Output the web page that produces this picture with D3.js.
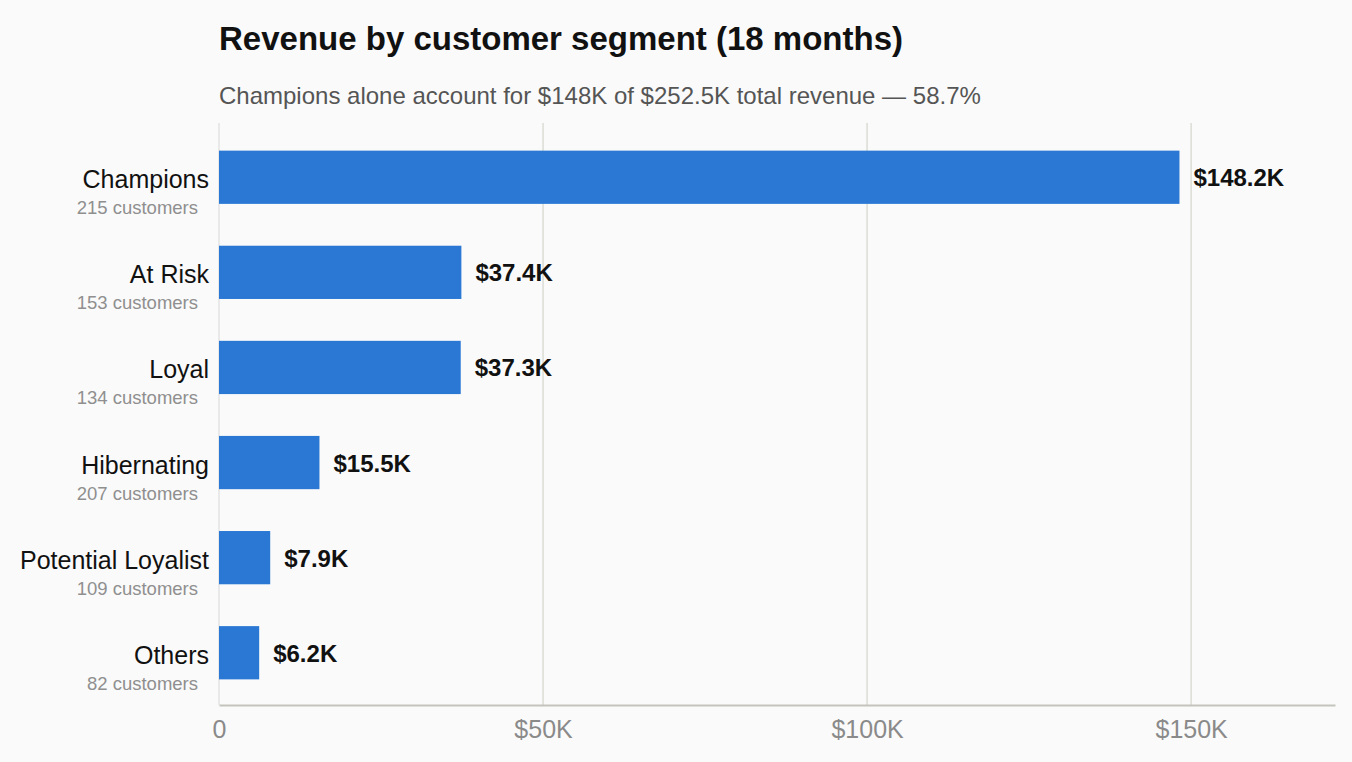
<!DOCTYPE html>
<html>
<head>
<meta charset="utf-8">
<script src="https://cdn.jsdelivr.net/npm/d3@7"></script>
<style>
  html, body { margin: 0; padding: 0; background: #fafafa; }
  svg { display: block; font-family: "Liberation Sans", Arial, Helvetica, sans-serif; }
</style>
</head>
<body>
<svg id="chart" width="1352" height="762"></svg>
<script>
const segments = ["Champions", "At Risk", "Loyal", "Hibernating", "Potential Loyalist", "Others"];
const revenue = [148.2, 37.4, 37.3, 15.5, 7.9, 6.2];          // $K
const customers = [215, 153, 134, 207, 109, 82];
const tickValues = [0, 50, 100, 150];
const tickLabels = ["0", "$50K", "$100K", "$150K"];
const titleText = "Revenue by customer segment (18 months)";
const subtitleText = "Champions alone account for $148K of $252.5K total revenue — 58.7%";

const data = segments.map((s, i) => ({ seg: s, rev: revenue[i], cust: customers[i] }));

const svg = d3.select("#chart");
const margin = { left: 219, right: 17, top: 123, bottom: 57 };
const W = 1352, H = 762;

const x = d3.scaleLinear().domain([0, 172.2]).range([margin.left, W - margin.right]);
const y = d3.scaleBand().domain(segments).range([margin.top + 1, H - margin.bottom + 1])
  .paddingInner(0.44).paddingOuter(0.28);

svg.append("rect").attr("width", W).attr("height", H).attr("fill", "#fafafa");

// title & subtitle
svg.append("text").attr("x", 219).attr("y", 50)
  .attr("font-size", 33).attr("font-weight", "bold").attr("fill", "#111")
  .text(titleText);
svg.append("text").attr("x", 219).attr("y", 104)
  .attr("font-size", 24).attr("fill", "#555")
  .text(subtitleText);

// grid
svg.append("g").selectAll("line").data(tickValues).join("line")
  .attr("x1", d => x(d)).attr("x2", d => x(d))
  .attr("y1", margin.top).attr("y2", H - margin.bottom)
  .attr("stroke", d => d === 0 ? "#d8d8d8" : "#dcdcd6").attr("stroke-width", d => d === 0 ? 1 : 1.5);

// x axis
const xAxis = d3.axisBottom(x).tickValues(tickValues)
  .tickFormat((d, i) => tickLabels[i]).tickSize(0).tickPadding(15);
const gx = svg.append("g").attr("transform", `translate(0,${H - margin.bottom})`).call(xAxis);
gx.select(".domain").attr("stroke", "#c4c4bc").attr("stroke-width", 2);
gx.selectAll("text").attr("font-size", 25).attr("fill", "#8a8a8a")
  .attr("font-family", "'Liberation Sans', Arial, sans-serif");

// bars
svg.append("g").selectAll("rect").data(data).join("rect")
  .attr("x", x(0)).attr("y", d => y(d.seg))
  .attr("width", d => x(d.rev) - x(0)).attr("height", y.bandwidth())
  .attr("fill", "#2b78d4");

// value labels
svg.append("g").selectAll("text").data(data).join("text")
  .attr("x", d => x(d.rev) + 14)
  .attr("y", d => y(d.seg) + y.bandwidth() / 2 + 9)
  .attr("font-size", 24).attr("font-weight", "bold").attr("fill", "#111")
  .text(d => "$" + d.rev.toFixed(1) + "K");

// segment labels
const lab = svg.append("g");
lab.selectAll("text.seg").data(data).join("text").attr("class", "seg")
  .attr("x", 209).attr("y", d => y(d.seg) + y.bandwidth() / 2 + 11)
  .attr("text-anchor", "end").attr("font-size", 25).attr("fill", "#111")
  .text(d => d.seg);
lab.selectAll("text.cust").data(data).join("text").attr("class", "cust")
  .attr("x", 198).attr("y", d => y(d.seg) + y.bandwidth() / 2 + 37)
  .attr("text-anchor", "end").attr("font-size", 18.5).attr("fill", "#8f8f8f")
  .text(d => d.cust + " customers");
</script>
</body>
</html>
